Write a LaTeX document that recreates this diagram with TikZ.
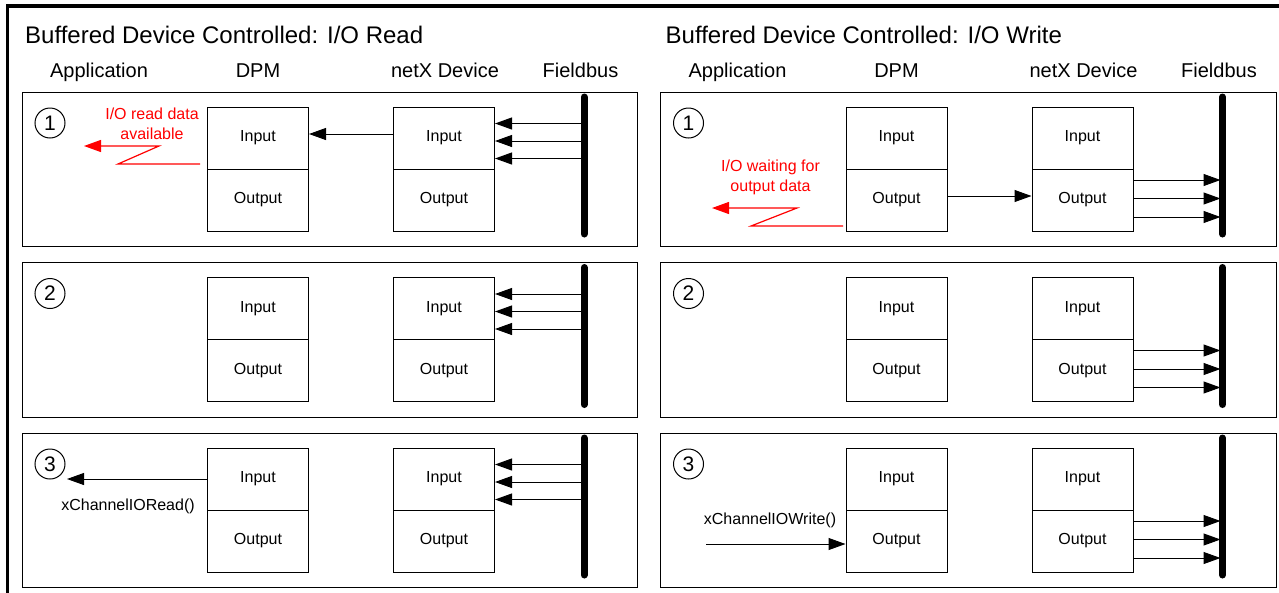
\documentclass[tikz,border=0pt]{standalone}
\usepackage{fontspec}
\setmainfont{Liberation Sans}
\usetikzlibrary{arrows.meta}
\definecolor{sigred}{RGB}{255,0,0}
\tikzset{
  panelbox/.style={draw, line width=1pt, minimum width=615.5pt, minimum height=154.5pt, inner sep=0pt},
  half/.style={draw, line width=1pt, minimum width=101pt, minimum height=62pt, inner sep=0pt, font=\fontsize{16}{19}\selectfont},
  numc/.style={draw, circle, line width=1pt, minimum size=30pt, inner sep=0pt, font=\fontsize{21}{21}\selectfont},
  busbar/.style={line width=7pt, line cap=round},
  arr/.style={line width=1pt, -{Triangle[length=17pt,width=12pt]}},
  redarr/.style={sigred, line width=1.2pt, -{Triangle[length=17pt,width=12pt]}},
  title/.style={anchor=base west, inner sep=0pt, font=\fontsize{24}{24}\selectfont},
  colhead/.style={anchor=base, inner sep=0pt, font=\fontsize{20}{20}\selectfont},
  lbl/.style={inner sep=0pt, font=\fontsize{16}{19}\selectfont},
  redlbl/.style={inner sep=0pt, align=center, text=sigred, font=\fontsize{16}{20}\selectfont},
}
% #1 prefix, #2 x shift, #3 y shift (top), #4 number
\newcommand\IOFrame[4]{%
  \node[panelbox] (panel) at (329.75,77.25) {};
  \node[numc] (num) at (50,31) {#4};
  \node[half] (dpmin) at (258,46) {Input};
  \node[half] (dpmout) at (258,108) {Output};
  \node[half] (nxin) at (444,46) {Input};
  \node[half] (nxout) at (444,108) {Output};
  \coordinate (bartop) at (584,5);
  \coordinate (barbot) at (584,142);
  \draw[busbar] (bartop) -- (barbot);
}
\newcommand\ReadPanel[4]{%
  \begin{scope}[shift={(#2,#3)}, name prefix=#1-]
    \IOFrame{#1}{#2}{#3}{#4}
    \coordinate (b1) at (581,31.5);
    \coordinate (b2) at (581,49);
    \coordinate (b3) at (581,66.5);
    \draw[arr] (b1) -- (b1 -| nxin.east);
    \draw[arr] (b2) -- (b2 -| nxin.east);
    \draw[arr] (b3) -- (b3 -| nxin.east);
  \end{scope}}
\newcommand\WritePanel[4]{%
  \begin{scope}[shift={(#2,#3)}, name prefix=#1-]
    \IOFrame{#1}{#2}{#3}{#4}
    \coordinate (b1) at (582,88);
    \coordinate (b2) at (582,106.5);
    \coordinate (b3) at (582,125);
    \draw[arr] (b1 -| nxout.east) -- (b1);
    \draw[arr] (b2 -| nxout.east) -- (b2);
    \draw[arr] (b3 -| nxout.east) -- (b3);
  \end{scope}}
\begin{document}
\begin{tikzpicture}[x=1pt,y=-1pt]
\useasboundingbox (0,0) rectangle (1279,592);
% outer frame (top and left edges)
\coordinate (frameBL) at (7.5,595);
\coordinate (frameTL) at (7.5,6);
\coordinate (frameTR) at (1282,6);
\draw[line width=3.5pt] (frameBL) -- (frameTL) -- (frameTR);
% headers
\node[title] (titleL) at (25,43) {Buffered Device Controlled: I/O Read};
\node[title] (titleR) at (665.5,43) {Buffered Device Controlled: I/O Write};
\node[colhead] (hAppL) at (99,77) {Application};
\node[colhead] (hDpmL) at (258,77) {DPM};
\node[colhead] (hNxL) at (445,77) {netX Device};
\node[colhead] (hFbL) at (580.5,77) {Fieldbus};
\node[colhead] (hAppR) at (737.5,77) {Application};
\node[colhead] (hDpmR) at (896.5,77) {DPM};
\node[colhead] (hNxR) at (1083.5,77) {netX Device};
\node[colhead] (hFbR) at (1219,77) {Fieldbus};
% panels
\ReadPanel{L1}{0}{92}{1}
\ReadPanel{L2}{0}{262.5}{2}
\ReadPanel{L3}{0}{433}{3}
\WritePanel{R1}{638.5}{92}{1}
\WritePanel{R2}{638.5}{262.5}{2}
\WritePanel{R3}{638.5}{433}{3}
% row 1 read
\draw[arr] ([yshift=4pt]L1-nxin.west) -- ([yshift=4pt]L1-dpmin.east);
\node[redlbl] (redtxtL) at (152,124) {I/O read data\\available};
\coordinate (redLs) at (200,164);
\coordinate (redLe) at (84,146);
\draw[redarr] (redLs) -- (118,164) -- (159,146) -- (redLe);
% row 1 write
\draw[arr] ([yshift=4pt]R1-dpmout.east) -- ([yshift=4pt]R1-nxout.west);
\node[redlbl] (redtxtR) at (770.5,177) {I/O waiting for\\output data};
\coordinate (redRs) at (843,226);
\coordinate (redRe) at (712,208);
\draw[redarr] (redRs) -- (751,226) -- (797,208) -- (redRe);
% row 3 read
\coordinate (appL3) at (67,479);
\draw[arr] (L3-dpmin.west) -- (appL3 |- L3-dpmin.west);
\node[lbl] (callR) at (128,506.5) {xChannelIORead()};
% row 3 write
\coordinate (appR3) at (706,544);
\draw[arr] (appR3) -- (appR3 -| R3-dpmout.west);
\node[lbl] (callW) at (770,520) {xChannelIOWrite()};
\end{tikzpicture}
\end{document}
